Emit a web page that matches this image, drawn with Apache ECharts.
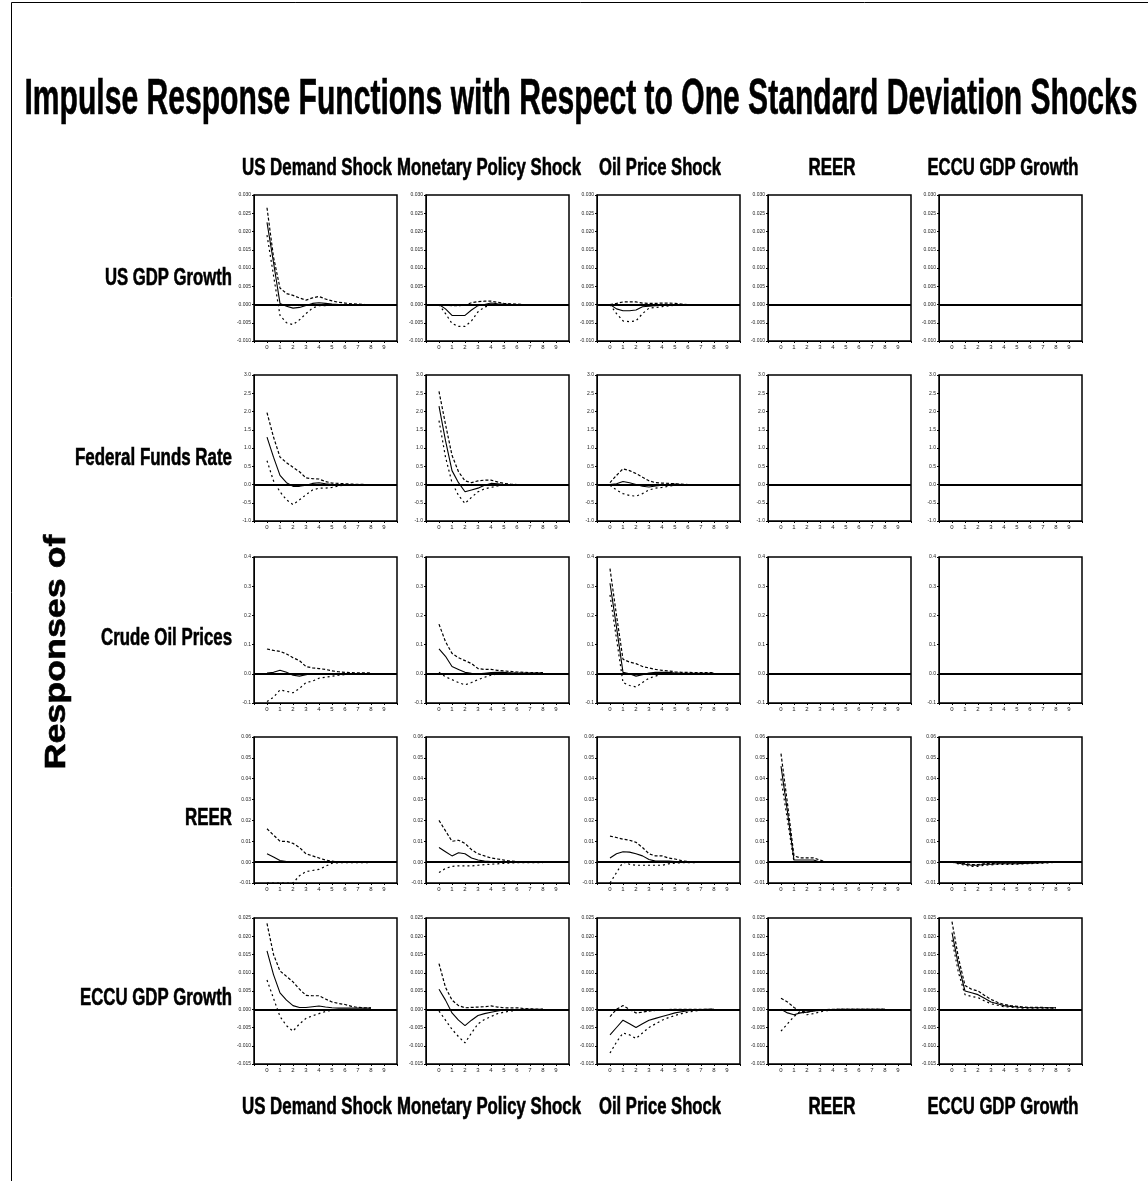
<!DOCTYPE html>
<html>
<head>
<meta charset="utf-8">
<script src="https://cdn.jsdelivr.net/npm/echarts@6/dist/echarts.min.js"></script>
<style>
html,body{margin:0;padding:0;background:#fff;}
#chart{width:1148px;height:1181px;}
</style>
</head>
<body>
<div id="chart"></div>
<script>
// ---------------- DATA ----------------
const titleText = 'Impulse Response Functions with Respect to One Standard Deviation Shocks';
const sideLabel = 'Responses of';
const shockNames = ['US Demand Shock', 'Monetary Policy Shock', 'Oil Price Shock', 'REER', 'ECCU GDP Growth'];
const responseNames = ['US GDP Growth', 'Federal Funds Rate', 'Crude Oil Prices', 'REER', 'ECCU GDP Growth'];
const xTickLabels = [0, 1, 2, 3, 4, 5, 6, 7, 8, 9];
const periods = [0, 0.5, 1, 1.5, 2, 2.5, 3, 3.5, 4, 4.5, 5, 5.5, 6, 6.5, 7, 7.5, 8];

const yMinByRow = [-0.01, -1.0, -0.1, -0.01, -0.015];
const yMaxByRow = [0.03, 3.0, 0.4, 0.06, 0.025];
const yStepByRow = [0.005, 0.5, 0.1, 0.01, 0.005];
const yDecimalsByRow = [3, 1, 1, 2, 3];

// Row 1: US GDP Growth
const r1c1_mid = [0.0225, 0.0115, 0.0003, -0.0005, -0.001, -0.0008, -0.0003, 0.0003, 0.0005, 0.0003, 0.0001, 0, 0, 0, 0, 0, 0];
const r1c1_up  = [0.0265, 0.013, 0.0045, 0.003, 0.0025, 0.0018, 0.0012, 0.0018, 0.0022, 0.0015, 0.001, 0.0006, 0.0004, 0.0002, 0.0001, 0, 0];
const r1c1_lo  = [0.019, 0.008, -0.003, -0.005, -0.0055, -0.0042, -0.0025, -0.001, -0.0003, -0.0003, -0.0002, -0.0001, 0, 0, 0, 0, 0];
const r1c2_mid = [0, -0.0012, -0.003, -0.003, -0.003, -0.0015, -0.0003, 0, 0.0004, 0.0002, 0.0001, 0, 0, 0, 0, 0, 0];
const r1c2_up  = [0, -0.0002, -0.0003, -0.0003, -0.0002, 0.0005, 0.0008, 0.0009, 0.0009, 0.0006, 0.0003, 0.0002, 0.0001, 0, 0, 0, 0];
const r1c2_lo  = [0, -0.0025, -0.0052, -0.006, -0.006, -0.0045, -0.002, -0.0007, -0.0002, -0.0001, 0, 0, 0, 0, 0, 0, 0];
const r1c3_mid = [0, -0.0012, -0.0017, -0.0017, -0.0015, -0.0006, -0.0005, -0.0003, -0.0001, 0, 0, 0, 0, 0, 0, 0, 0];
const r1c3_up  = [0, 0.0003, 0.0007, 0.0007, 0.0007, 0.0004, 0.0003, 0.0003, 0.0004, 0.0004, 0.0003, 0.0001, 0, 0, 0, 0, 0];
const r1c3_lo  = [0, -0.0025, -0.0045, -0.0047, -0.0045, -0.0025, -0.001, -0.0008, -0.0006, -0.0004, -0.0002, -0.0001, 0, 0, 0, 0, 0];

// Row 2: Federal Funds Rate
const r2c1_mid = [1.3, 0.75, 0.25, 0.05, -0.05, -0.05, -0.02, 0.03, 0.05, 0.02, 0, 0, 0, 0, 0, 0, 0];
const r2c1_up  = [1.97, 1.3, 0.75, 0.6, 0.47, 0.35, 0.18, 0.16, 0.15, 0.08, 0.04, 0.03, 0.02, 0.01, 0.005, 0, 0];
const r2c1_lo  = [0.65, 0.1, -0.2, -0.42, -0.55, -0.42, -0.28, -0.15, -0.1, -0.1, -0.08, -0.04, -0.02, 0, 0, 0, 0];
const r2c2_mid = [2.15, 1.2, 0.38, 0.05, -0.2, -0.15, -0.1, -0.02, 0.03, 0.02, 0, 0, 0, 0, 0, 0, 0];
const r2c2_up  = [2.55, 1.65, 0.8, 0.35, 0.1, 0.05, 0.1, 0.12, 0.12, 0.07, 0.03, 0.01, 0, 0, 0, 0, 0];
const r2c2_lo  = [1.75, 0.75, 0.05, -0.3, -0.52, -0.35, -0.2, -0.12, -0.08, -0.04, -0.02, 0, 0, 0, 0, 0, 0];
const r2c3_mid = [0, 0.02, 0.08, 0.05, 0, -0.05, -0.07, -0.04, -0.02, 0, 0.01, 0, 0, 0, 0, 0, 0];
const r2c3_up  = [0.05, 0.25, 0.43, 0.38, 0.3, 0.2, 0.1, 0.05, 0.04, 0.03, 0.02, 0.01, 0, 0, 0, 0, 0];
const r2c3_lo  = [-0.02, -0.15, -0.25, -0.3, -0.32, -0.25, -0.15, -0.1, -0.08, -0.05, -0.02, -0.01, 0, 0, 0, 0, 0];

// Row 3: Crude Oil Prices
const r3c1_mid = [0.003, 0.005, 0.012, 0.005, -0.005, -0.008, -0.003, 0, 0.001, 0, 0, 0, 0, 0, 0, 0, 0];
const r3c1_up  = [0.085, 0.08, 0.077, 0.068, 0.055, 0.045, 0.025, 0.02, 0.018, 0.015, 0.01, 0.007, 0.005, 0.004, 0.003, 0.003, 0.003];
const r3c1_lo  = [-0.095, -0.08, -0.055, -0.06, -0.065, -0.05, -0.03, -0.025, -0.015, -0.012, -0.008, -0.005, -0.003, -0.001, 0, 0, 0];
const r3c2_mid = [0.085, 0.06, 0.025, 0.015, 0.005, 0.002, 0, 0.002, 0.004, 0.005, 0.005, 0.003, 0.002, 0.002, 0.002, 0.002, 0.002];
const r3c2_up  = [0.17, 0.11, 0.07, 0.055, 0.045, 0.035, 0.018, 0.015, 0.015, 0.012, 0.01, 0.008, 0.006, 0.005, 0.004, 0.004, 0.004];
const r3c2_lo  = [0.005, -0.01, -0.02, -0.03, -0.038, -0.03, -0.02, -0.012, -0.005, 0, 0.002, 0.002, 0.002, 0.002, 0.002, 0.002, 0.002];
const r3c3_mid = [0.31, 0.16, 0.005, 0, -0.008, -0.003, 0.003, 0.005, 0.005, 0.005, 0.003, 0.002, 0.002, 0.002, 0.002, 0.002, 0.002];
const r3c3_up  = [0.36, 0.2, 0.05, 0.04, 0.035, 0.025, 0.02, 0.015, 0.012, 0.01, 0.007, 0.005, 0.005, 0.004, 0.004, 0.004, 0.004];
const r3c3_lo  = [0.27, 0.12, -0.03, -0.04, -0.045, -0.03, -0.015, -0.008, 0, 0.002, 0.002, 0.001, 0.001, 0.001, 0.001, 0.001, 0.001];

// Row 4: REER
const r4c1_mid = [0.004, 0.0025, 0.0008, 0.0003, 0, 0, 0, 0, 0, 0, 0, 0, 0, 0, 0, 0, 0];
const r4c1_up  = [0.016, 0.013, 0.01, 0.01, 0.009, 0.007, 0.004, 0.003, 0.002, 0.001, 0.0005, 0, 0, 0, 0, 0, 0];
const r4c1_lo  = [-0.01, -0.01, -0.01, -0.01, -0.01, -0.0065, -0.0045, -0.004, -0.0035, -0.002, -0.0005, -0.0003, -0.0003, -0.0002, -0.0002, -0.0002, -0.0002];
const r4c2_mid = [0.007, 0.005, 0.003, 0.0045, 0.004, 0.002, 0.001, 0.0005, 0.0003, 0.0002, 0.0001, 0, 0, 0, 0, 0, 0];
const r4c2_up  = [0.02, 0.015, 0.01, 0.0105, 0.009, 0.006, 0.004, 0.003, 0.002, 0.0015, 0.001, 0.0005, 0.0003, 0, 0, 0, 0];
const r4c2_lo  = [-0.005, -0.003, -0.002, -0.0018, -0.0018, -0.0018, -0.0015, -0.0012, -0.001, -0.0008, -0.0006, -0.0004, -0.0003, -0.0002, -0.0002, -0.0002, -0.0002];
const r4c3_mid = [0.002, 0.004, 0.005, 0.0048, 0.004, 0.003, 0.0013, 0.0005, 0.0005, 0.0005, 0.0003, 0.0002, 0.0001, 0, 0, 0, 0];
const r4c3_up  = [0.0125, 0.0118, 0.011, 0.0105, 0.0095, 0.007, 0.004, 0.003, 0.003, 0.002, 0.0015, 0.0007, 0.0003, 0.0001, 0, 0, 0];
const r4c3_lo  = [-0.01, -0.005, 0, -0.001, -0.0015, -0.0015, -0.0015, -0.0015, -0.0015, -0.0008, -0.0005, -0.0003, -0.0003, -0.0002, -0.0001, 0, 0];
const r4c4_mid = [0.046, 0.024, 0.001, 0.001, 0.001, 0.001, 0, 0, 0, 0, 0, 0, 0, 0, 0, 0, 0];
const r4c4_up  = [0.052, 0.028, 0.003, 0.002, 0.002, 0.002, 0.001, 0, 0, 0, 0, 0, 0, 0, 0, 0, 0];
const r4c4_lo  = [0.04, 0.02, 0, 0, 0, 0, 0, 0, 0, 0, 0, 0, 0, 0, 0, 0, 0];
const r4c5_mid = [0, -0.0005, -0.001, -0.0015, -0.0015, -0.001, -0.001, -0.0008, -0.0008, -0.0008, -0.0008, -0.0006, -0.0005, -0.0004, -0.0003, -0.0002, 0];
const r4c5_up  = [0, -0.0002, -0.0007, -0.0012, -0.0012, -0.0007, -0.0007, -0.0005, -0.0005, -0.0005, -0.0005, -0.0004, -0.0003, -0.0002, -0.0001, 0, 0];
const r4c5_lo  = [0, -0.0008, -0.0015, -0.002, -0.002, -0.0015, -0.0013, -0.0011, -0.0011, -0.0011, -0.001, -0.0008, -0.0007, -0.0006, -0.0005, -0.0003, 0];

// Row 5: ECCU GDP Growth
const r5c1_mid = [0.016, 0.0095, 0.0045, 0.0025, 0.001, 0.0005, 0.0005, 0.0007, 0.0009, 0.0006, 0.0004, 0.0003, 0.0003, 0.0003, 0.0003, 0.0003, 0.0003];
const r5c1_up  = [0.0235, 0.015, 0.0105, 0.009, 0.0075, 0.0055, 0.0038, 0.0037, 0.0037, 0.0028, 0.002, 0.0016, 0.0013, 0.0008, 0.0005, 0.0004, 0.0004];
const r5c1_lo  = [0.008, 0.003, -0.002, -0.0045, -0.006, -0.004, -0.0025, -0.0018, -0.0012, -0.0006, -0.0003, -0.0002, -0.0002, -0.0001, -0.0001, 0, 0];
const r5c2_mid = [0.0055, 0.0025, -0.001, -0.003, -0.0045, -0.003, -0.0017, -0.0012, -0.0008, -0.0005, -0.0002, -0.0001, -0.0001, 0, 0, 0, 0];
const r5c2_up  = [0.0125, 0.006, 0.0025, 0.001, 0.0004, 0.0005, 0.0006, 0.0007, 0.0009, 0.0006, 0.0004, 0.0004, 0.0004, 0.0002, 0.0001, 0, 0];
const r5c2_lo  = [-0.0005, -0.003, -0.0055, -0.0075, -0.0092, -0.0065, -0.004, -0.0028, -0.002, -0.0012, -0.0008, -0.0005, -0.0003, -0.0001, 0, 0, 0];
const r5c3_mid = [-0.007, -0.005, -0.003, -0.004, -0.005, -0.004, -0.003, -0.0025, -0.002, -0.0015, -0.001, -0.0007, -0.0004, -0.0002, -0.0001, 0, 0];
const r5c3_up  = [-0.002, 0, 0.001, 0, -0.001, -0.0008, -0.0005, -0.0003, -0.0002, -0.0001, 0, 0, 0, 0, 0, 0, 0];
const r5c3_lo  = [-0.012, -0.009, -0.0065, -0.007, -0.008, -0.0065, -0.005, -0.004, -0.003, -0.0023, -0.0017, -0.0012, -0.0008, -0.0005, -0.0003, -0.0001, 0];
const r5c4_mid = [0, -0.001, -0.0015, -0.001, -0.0008, -0.0005, -0.0003, -0.0002, -0.0001, 0, 0, 0, 0, 0, 0, 0, 0];
const r5c4_up  = [0.003, 0.002, 0.0005, -0.0005, -0.0008, -0.0004, -0.0002, -0.0001, 0, 0, 0, 0, 0, 0, 0, 0, 0];
const r5c4_lo  = [-0.006, -0.004, -0.002, -0.0005, -0.0015, -0.0012, -0.0007, -0.0004, -0.0002, 0, 0, 0, 0, 0, 0, 0, 0];
const r5c5_mid = [0.021, 0.012, 0.005, 0.0045, 0.004, 0.003, 0.002, 0.0015, 0.001, 0.0008, 0.0006, 0.0005, 0.0004, 0.0004, 0.0004, 0.0004, 0.0004];
const r5c5_up  = [0.024, 0.014, 0.0065, 0.0055, 0.005, 0.0038, 0.0027, 0.0019, 0.0013, 0.001, 0.0008, 0.0006, 0.0005, 0.0005, 0.0005, 0.0004, 0.0004];
const r5c5_lo  = [0.019, 0.01, 0.004, 0.0035, 0.0032, 0.0023, 0.0015, 0.0011, 0.0007, 0.0006, 0.0004, 0.0003, 0.0003, 0.0003, 0.0003, 0.0003, 0.0003];

// panel table: [row][col] -> {mid, up, lo} or null (no response plotted)
const panelData = [
  [{mid:r1c1_mid,up:r1c1_up,lo:r1c1_lo},{mid:r1c2_mid,up:r1c2_up,lo:r1c2_lo},{mid:r1c3_mid,up:r1c3_up,lo:r1c3_lo},null,null],
  [{mid:r2c1_mid,up:r2c1_up,lo:r2c1_lo},{mid:r2c2_mid,up:r2c2_up,lo:r2c2_lo},{mid:r2c3_mid,up:r2c3_up,lo:r2c3_lo},null,null],
  [{mid:r3c1_mid,up:r3c1_up,lo:r3c1_lo},{mid:r3c2_mid,up:r3c2_up,lo:r3c2_lo},{mid:r3c3_mid,up:r3c3_up,lo:r3c3_lo},null,null],
  [{mid:r4c1_mid,up:r4c1_up,lo:r4c1_lo},{mid:r4c2_mid,up:r4c2_up,lo:r4c2_lo},{mid:r4c3_mid,up:r4c3_up,lo:r4c3_lo},{mid:r4c4_mid,up:r4c4_up,lo:r4c4_lo},{mid:r4c5_mid,up:r4c5_up,lo:r4c5_lo}],
  [{mid:r5c1_mid,up:r5c1_up,lo:r5c1_lo},{mid:r5c2_mid,up:r5c2_up,lo:r5c2_lo},{mid:r5c3_mid,up:r5c3_up,lo:r5c3_lo},{mid:r5c4_mid,up:r5c4_up,lo:r5c4_lo},{mid:r5c5_mid,up:r5c5_up,lo:r5c5_lo}]
];

// ---------------- LAYOUT ----------------
const colLeft = [254, 426, 597, 768, 939];
const rowTop = [195, 375, 557, 737, 918];
const panelW = 143, panelH = 146;
const FONT = '"Liberation Sans", Arial, sans-serif';

const measureCtx = document.createElement('canvas').getContext('2d');
function fitScale(text, size, target) {
  measureCtx.font = 'bold ' + size + 'px ' + FONT;
  return target / measureCtx.measureText(text).width;
}
function label(text, x, y, size, align, targetW, rot) {
  return {
    type: 'text', x: x, y: y, rotation: rot || 0,
    scaleX: fitScale(text, size, targetW), scaleY: 1,
    style: { text: text, fill: '#000', font: 'bold ' + size + 'px ' + FONT, textAlign: align, textVerticalAlign: 'middle',
      stroke: '#000', lineWidth: 0.6 }
  };
}

const headerWidths = [150, 184, 122, 47, 151];
const headerCenters = [317, 489, 660, 832, 1003];
const rowLabelWidths = [127, 157, 131, 47, 152];
const rowLabelCenters = [278, 458, 638, 818, 998];

const grids = [], xAxes = [], yAxes = [], series = [];
const blackLine = { color: '#000' };

for (let r = 0; r < 5; r++) {
  for (let c = 0; c < 5; c++) {
    const idx = r * 5 + c;
    grids.push({ left: colLeft[c], top: rowTop[r], width: panelW, height: panelH, show: true, borderColor: '#000', borderWidth: 1.5, backgroundColor: 'transparent' });
    xAxes.push({
      type: 'value', gridIndex: idx, min: -1, max: 10, interval: 1,
      axisLine: { show: true, onZero: false, lineStyle: blackLine },
      axisTick: { show: true, length: 2, lineStyle: blackLine },
      axisLabel: { fontSize: 6, color: '#222', margin: 3, fontFamily: FONT,
        formatter: v => (xTickLabels.indexOf(v) >= 0 ? String(v) : '') },
      splitLine: { show: false }
    });
    const dec = yDecimalsByRow[r];
    yAxes.push({
      type: 'value', gridIndex: idx, min: yMinByRow[r], max: yMaxByRow[r], interval: yStepByRow[r],
      axisLine: { show: true, onZero: false, lineStyle: blackLine },
      axisTick: { show: true, length: 2, lineStyle: blackLine },
      axisLabel: { fontSize: 5, color: '#222', margin: 3, fontFamily: FONT, formatter: v => v.toFixed(dec) },
      splitLine: { show: false }
    });
    const zeroLine = {
      silent: true, symbol: ['none', 'none'], label: { show: false },
      lineStyle: { color: '#000', width: 1.8, type: 'solid' },
      data: [{ yAxis: 0 }]
    };
    const p = panelData[r][c];
    if (!p) {
      series.push({ type: 'line', xAxisIndex: idx, yAxisIndex: idx, data: [], markLine: zeroLine });
      continue;
    }
    const mk = arr => periods.map((t, i) => [t, arr[i]]);
    series.push({ type: 'line', xAxisIndex: idx, yAxisIndex: idx, data: mk(p.lo), showSymbol: false, silent: true,
      lineStyle: { color: '#000', width: 1.2, type: [2, 3] }, markLine: zeroLine });
    series.push({ type: 'line', xAxisIndex: idx, yAxisIndex: idx, data: mk(p.up), showSymbol: false, silent: true,
      lineStyle: { color: '#000', width: 1.2, type: [3, 2] } });
    series.push({ type: 'line', xAxisIndex: idx, yAxisIndex: idx, data: mk(p.mid), showSymbol: false, silent: true,
      lineStyle: { color: '#000', width: 1.1, type: 'solid' } });
  }
}

const graphics = [
  { type: 'rect', shape: { x: 11.5, y: 2.5, width: 1160, height: 1200 }, style: { fill: 'none', stroke: '#000', lineWidth: 1 } },
  label(titleText, 581, 100, 50, 'center', 1113),
  label(sideLabel, 57, 652, 30, 'center', 235, Math.PI / 2)
];
for (let c = 0; c < 5; c++) {
  graphics.push(label(shockNames[c], headerCenters[c], 168, 24, 'center', headerWidths[c]));
  graphics.push(label(shockNames[c], headerCenters[c], 1107, 24, 'center', headerWidths[c]));
}
for (let r = 0; r < 5; r++) {
  graphics.push(label(responseNames[r], 232, rowLabelCenters[r], 24, 'right', rowLabelWidths[r]));
}

const chart = echarts.init(document.getElementById('chart'), null, { renderer: 'canvas' });
chart.setOption({
  backgroundColor: '#fff',
  animation: false,
  grid: grids, xAxis: xAxes, yAxis: yAxes, series: series,
  graphic: graphics
});
</script>
</body>
</html>
